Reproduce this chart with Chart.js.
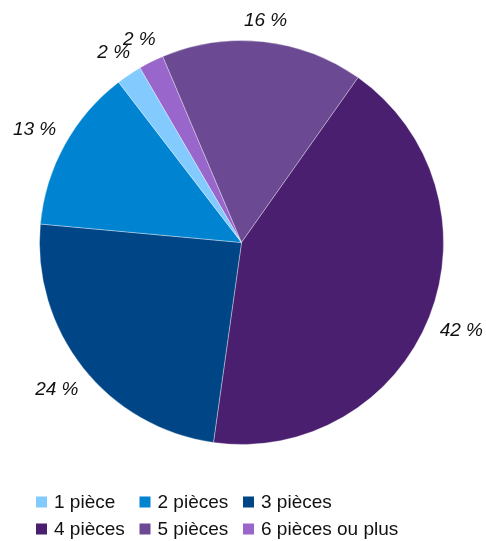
<!DOCTYPE html>
<html lang="fr">
<head>
<meta charset="utf-8">
<title>Répartition par nombre de pièces</title>
<script src="https://cdn.jsdelivr.net/npm/chart.js@4/dist/chart.umd.min.js"></script>
<style>
  html, body { margin: 0; padding: 0; background: #ffffff; }
  #wrap { position: relative; width: 486px; height: 541px; }
</style>
</head>
<body>
<div id="wrap"><canvas id="chart"></canvas></div>
<script>
// Share of dwellings by number of rooms (percent)
const categories = ['1 pièce', '2 pièces', '3 pièces', '4 pièces', '5 pièces', '6 pièces ou plus'];
const shares = [2, 13, 24, 42, 16, 2];
const sliceColors = ['#83caff', '#0084d1', '#004586', '#4b1f6f', '#6b4a93', '#9966cc'];
const valueSuffix = ' %';

// Slices run counter-clockwise in category order; Chart.js sweeps clockwise,
// so the dataset is fed in reverse order.
const order = categories.map((_, i) => i).reverse();

const FONT = '"Liberation Sans", Arial, sans-serif';

// Percent labels placed just outside each slice, along its middle angle
const sliceLabels = {
  id: 'sliceLabels',
  afterDatasetsDraw(chart) {
    const ctx = chart.ctx;
    const meta = chart.getDatasetMeta(0);
    const values = chart.data.datasets[0].data;
    ctx.save();
    ctx.font = 'italic 19px ' + FONT;
    ctx.fillStyle = '#111111';
    ctx.textAlign = 'center';
    ctx.textBaseline = 'middle';
    meta.data.forEach((arc, i) => {
      const p = arc.getProps(['x', 'y', 'startAngle', 'endAngle', 'outerRadius'], true);
      const mid = (p.startAngle + p.endAngle) / 2;
      const ux = Math.cos(mid), uy = Math.sin(mid);
      const text = values[i] + valueSuffix;
      const w = ctx.measureText(text).width;
      const d = p.outerRadius + 11 + Math.abs(ux) * w / 2 + Math.abs(uy) * 9;
      ctx.fillText(text, p.x + ux * d, p.y + uy * d + 1);
    });
    ctx.restore();
  }
};

// Legend laid out as a 3-column grid under the pie, in category order
const gridLegend = {
  id: 'gridLegend',
  afterDraw(chart) {
    const ctx = chart.ctx;
    const ds = chart.data.datasets[0];
    const n = chart.data.labels.length;
    ctx.save();
    ctx.font = '19px ' + FONT;
    ctx.textAlign = 'left';
    ctx.textBaseline = 'middle';
    for (let k = 0; k < n; k++) {
      // legend follows the original category order
      const idx = n - 1 - k;
      const col = k % 3, row = Math.floor(k / 3);
      const x0 = 36 + col * 103.5;
      const yc = 502 + row * 27;
      ctx.fillStyle = ds.backgroundColor[idx];
      ctx.fillRect(x0, yc - 5.5, 11, 11);
      ctx.fillStyle = '#111111';
      ctx.fillText(chart.data.labels[idx], x0 + 18, yc + 1);
    }
    ctx.restore();
  }
};

new Chart(document.getElementById('chart'), {
  type: 'pie',
  data: {
    labels: order.map(i => categories[i]),
    datasets: [{
      data: order.map(i => shares[i]),
      backgroundColor: order.map(i => sliceColors[i]),
      borderColor: 'rgba(255,255,255,0.35)',
      borderWidth: 1
    }]
  },
  options: {
    responsive: true,
    maintainAspectRatio: false,
    animation: false,
    events: [],
    rotation: -30.2,
    radius: 202,
    layout: { padding: { left: 0, right: 3, top: 40, bottom: 96 } },
    plugins: {
      legend: { display: false },
      tooltip: { enabled: false }
    }
  },
  plugins: [sliceLabels, gridLegend]
});
</script>
</body>
</html>
